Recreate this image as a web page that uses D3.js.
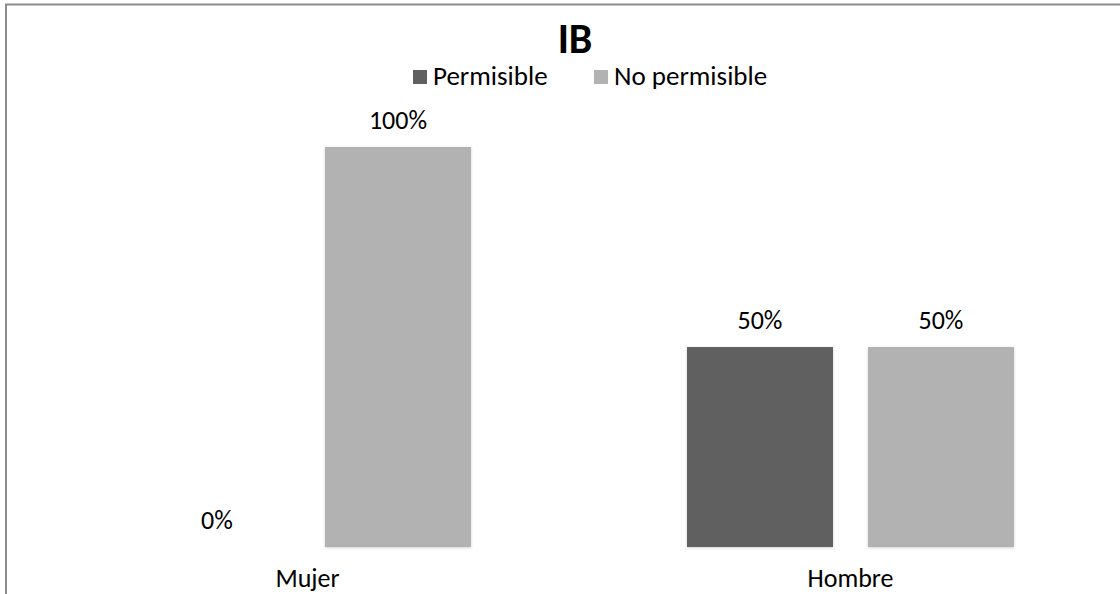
<!DOCTYPE html>
<html>
<head>
<meta charset="utf-8">
<script src="https://cdn.jsdelivr.net/npm/d3@7"></script>
<style>
  html, body { margin: 0; padding: 0; background: #fff; }
  svg { display: block; }
  text { font-family: Carlito, Calibri, Lato, "Open Sans", sans-serif; fill: #000; }
</style>
</head>
<body>
<svg id="chart" width="1120" height="594"></svg>
<script>
// Chart data
const title = "IB";
const categories = ["Mujer", "Hombre"];
const seriesNames = ["Permisible", "No permisible"];
const permisible = [0, 0.5];
const noPermisible = [1, 0.5];
const seriesColors = ["#606060", "#b2b2b2"];

const values = [permisible, noPermisible];

const svg = d3.select("#chart");
const W = 1120, H = 594;

// chart frame (extends beyond the visible area on the right and bottom)
svg.append("rect")
  .attr("x", 6).attr("y", 4.5)
  .attr("width", W + 100).attr("height", H + 100)
  .attr("fill", "none")
  .attr("stroke", "#8c8c8c")
  .attr("stroke-width", 2);

// soft shadow behind bars
const defs = svg.append("defs");
const f = defs.append("filter").attr("id", "shadow")
  .attr("x", "-10%").attr("y", "-10%").attr("width", "120%").attr("height", "120%");
f.append("feGaussianBlur").attr("in", "SourceAlpha").attr("stdDeviation", 1.6).attr("result", "b");
f.append("feOffset").attr("in", "b").attr("dx", 0).attr("dy", 1).attr("result", "o");
f.append("feComponentTransfer").attr("in", "o").attr("result", "s")
  .append("feFuncA").attr("type", "linear").attr("slope", 0.18);
const m = f.append("feMerge");
m.append("feMergeNode").attr("in", "s");
m.append("feMergeNode").attr("in", "SourceGraphic");

// scales
const x0 = d3.scaleBand().domain(categories).range([36, 1122]).padding(0);
const x1 = d3.scaleBand().domain(seriesNames)
  .range([0, x0.bandwidth()])
  .paddingInner(0.1934).paddingOuter(0.5967);
const y = d3.scaleLinear().domain([0, 1]).range([547, 147]);
const fmt = d3.format(".0%");

// bars
const groups = svg.append("g").selectAll("g")
  .data(categories)
  .join("g")
  .attr("transform", d => `translate(${x0(d)},0)`);

groups.selectAll("rect")
  .data((c, ci) => seriesNames.map((s, si) => ({ s, si, v: values[si][ci] })))
  .join("rect")
  .filter(d => d.v > 0)
  .attr("x", d => x1(d.s))
  .attr("y", d => y(d.v))
  .attr("width", x1.bandwidth())
  .attr("height", d => y(0) - y(d.v))
  .attr("fill", d => seriesColors[d.si])
  .attr("filter", "url(#shadow)");

// value labels
groups.selectAll("text.val")
  .data((c, ci) => seriesNames.map((s, si) => ({ s, si, v: values[si][ci] })))
  .join("text")
  .attr("class", "val")
  .attr("x", d => x1(d.s) + x1.bandwidth() / 2)
  .attr("y", d => y(d.v) - 18)
  .attr("text-anchor", "middle")
  .attr("font-size", 26)
  .text(d => fmt(d.v));

// category axis labels
svg.append("g").selectAll("text")
  .data(categories)
  .join("text")
  .attr("x", d => x0(d) + x0.bandwidth() / 2)
  .attr("y", 587)
  .attr("text-anchor", "middle")
  .attr("font-size", 26)
  .text(d => d);

// title
svg.append("text")
  .attr("x", 575).attr("y", 53)
  .attr("text-anchor", "middle")
  .attr("font-size", 42)
  .attr("font-weight", "bold")
  .text(title);

// legend
const legendX = [413, 594];
const legend = svg.append("g").selectAll("g")
  .data(seriesNames)
  .join("g")
  .attr("transform", (d, i) => `translate(${legendX[i]},0)`);
legend.append("rect")
  .attr("x", 0).attr("y", 70)
  .attr("width", 14).attr("height", 14)
  .attr("fill", (d, i) => seriesColors[i]);
legend.append("text")
  .attr("x", 20).attr("y", 85)
  .attr("font-size", 27)
  .text(d => d);
</script>
</body>
</html>
